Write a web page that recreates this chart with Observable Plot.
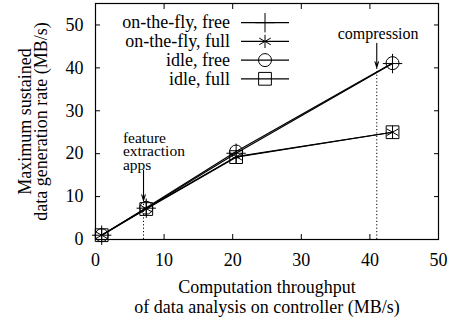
<!DOCTYPE html>
<html><head><meta charset="utf-8">
<script src="https://cdn.jsdelivr.net/npm/d3@7"></script>
<script src="https://cdn.jsdelivr.net/npm/@observablehq/plot@0.6"></script>
<style>body{margin:0;background:#fff} #chart{position:relative;width:456px;height:323px}
#chart svg text{font-family:"Liberation Serif","Times New Roman",serif}</style>
</head><body><div id="chart"></div>
<script>
// ---- data ----
const throughput = [0.9, 7.4, 20.5, 43.3];
const seriesNames = ["on-the-fly, free", "on-the-fly, full", "idle, free", "idle, full"];
const otfFree  = [1.0, 7.3, 20.1, 41.0];
const otfFull  = [1.0, 7.2, 19.3, 25.0];
const idleFree = [1.0, 7.4, 20.5, 41.1];
const idleFull = [1.0, 7.1, 19.2, 25.0];
const seriesSymbols = ["plus", "asterisk", "circle", "square"];
const xTicks = [0, 10, 20, 30, 40, 50];
const yTicks = [0, 10, 20, 30, 40, 50];
const xLabel = "Computation throughput\nof data analysis on controller (MB/s)";
const yLabel = "Maximum sustained\ndata generation rate (MB/s)";
const annotLabels = ["compression", "feature\nextraction\napps"];
const annotX = [41, 7];
const annotTextX = [41.2, 4.0];
const annotTextY = [48.0, 24.8];
const annotArrowFrom = [45.7, 16.1];
const annotArrowTo = [40.1, 9.1];

const seriesValues = [otfFree, otfFull, idleFree, idleFull];
const series = seriesNames.map((name, i) => ({
  name, symbol: seriesSymbols[i],
  points: throughput.map((x, j) => ({x, y: seriesValues[i][j]}))
}));
const annotations = annotLabels.map((label, i) => ({
  label, x: annotX[i], tx: annotTextX[i], ty: annotTextY[i],
  from: annotArrowFrom[i], to: annotArrowTo[i]
}));

const FONT = "Liberation Serif";
const symR = {plus: 6.3, asterisk: 6.3, circle: 6.5, square: 7.2};

const marks = [
  Plot.ruleX(annotations, {x: "x", y1: 0, y2: "to", strokeDasharray: "1.2,2.2", strokeWidth: 1}),
  Plot.arrow(annotations, {x1: "x", x2: "x", y1: "from", y2: "to", headLength: 8, headAngle: 35, strokeWidth: 1.1}),
];
for (const s of series) {
  marks.push(Plot.line(s.points, {x: "x", y: "y", stroke: "black", strokeWidth: 1.2}));
  marks.push(Plot.dot(s.points, {x: "x", y: "y", symbol: () => s.symbol, r: symR[s.symbol], stroke: "black", strokeWidth: 1, fill: "none"}));
}
marks.push(
  Plot.text([annotations[0]], {x: "tx", y: "ty", text: "label", textAnchor: "middle", lineAnchor: "middle", fontSize: 16, fontFamily: FONT}),
  Plot.text([annotations[1]], {x: "tx", y: "ty", text: "label", textAnchor: "start", lineAnchor: "top", fontSize: 15.5, lineHeight: 0.87, fontFamily: FONT}),
  Plot.frame({stroke: "black", strokeWidth: 1.2}),
  Plot.axisX({anchor: "bottom", ticks: xTicks, tickSize: -5, tickPadding: 19, label: null, fontFamily: FONT}),
  Plot.axisX({anchor: "top", ticks: xTicks, tickSize: -5, tickFormat: () => "", label: null}),
  Plot.axisY({anchor: "left", ticks: yTicks, tickSize: -5, tickPadding: 17, label: null, fontFamily: FONT}),
  Plot.axisY({anchor: "right", ticks: yTicks, tickSize: -5, tickFormat: () => "", label: null}),
  Plot.text([xLabel], {frameAnchor: "bottom", dy: 39, lineAnchor: "top", textAnchor: "middle", lineHeight: 1.13, fontFamily: FONT}),
  Plot.text([yLabel], {frameAnchor: "left", dx: -75, rotate: -90, lineAnchor: "top", textAnchor: "middle", lineHeight: 0.85, fontFamily: FONT})
);

const chart = Plot.plot({
  width: 456, height: 323,
  marginLeft: 95, marginRight: 18, marginTop: 3, marginBottom: 84,
  x: {domain: [0, 50]},
  y: {domain: [0, 55]},
  style: {fontFamily: FONT, fontSize: "18px", color: "black", background: "white"},
  marks
});
document.getElementById("chart").appendChild(chart);

// ---- legend inside the plot frame ----
const svg = d3.select(chart);
const lg = svg.append("g").attr("font-family", FONT).attr("font-size", 18);
const symMap = {plus: d3.symbolPlus, asterisk: d3.symbolAsterisk, circle: d3.symbolCircle, square: d3.symbolSquare};
series.forEach((s, i) => {
  const y = 22.7 + i * 18.7;
  lg.append("text").attr("x", 230).attr("y", y).attr("dy", "0.32em").attr("text-anchor", "end").attr("fill", "black").text(s.name);
  lg.append("line").attr("x1", 241).attr("x2", 289).attr("y1", y).attr("y2", y).attr("stroke", "black").attr("stroke-width", 1.2);
  const r = symR[s.symbol];
  lg.append("path").attr("transform", `translate(265,${y})`)
    .attr("d", d3.symbol(symMap[s.symbol], Math.PI * r * r)())
    .attr("fill", "none").attr("stroke", "black").attr("stroke-width", 1);
});
</script>
</body></html>
